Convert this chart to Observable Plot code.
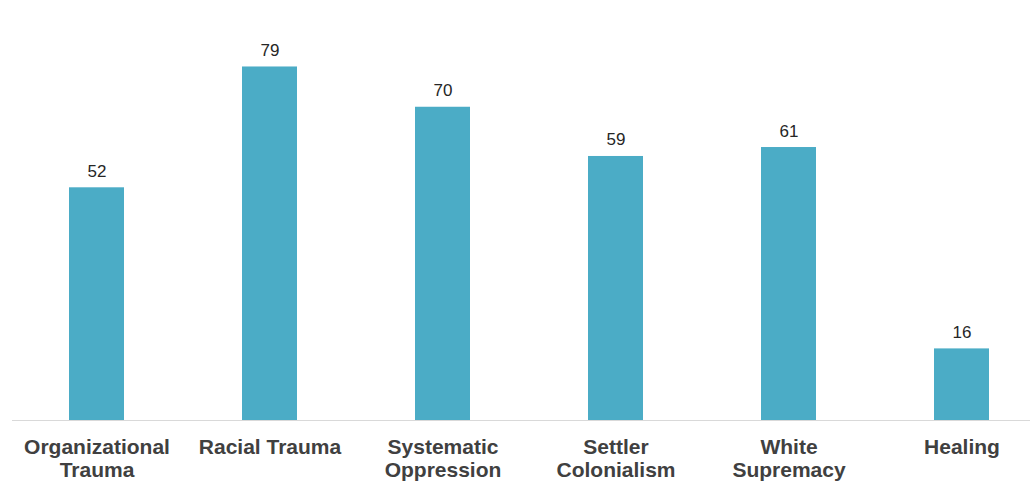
<!DOCTYPE html>
<html>
<head>
<meta charset="utf-8">
<script src="https://cdn.jsdelivr.net/npm/d3@7"></script>
<script src="https://cdn.jsdelivr.net/npm/@observablehq/plot@0.6"></script>
<style>
  html, body { margin: 0; padding: 0; background: #fff; }
  #chart svg { display: block; }
</style>
</head>
<body>
<div id="chart"></div>
<script>
const categories = ["Organizational\nTrauma", "Racial Trauma", "Systematic\nOppression", "Settler\nColonialism", "White\nSupremacy", "Healing"];
const values = [52, 79, 70, 59, 61, 16];

const data = categories.map((c, i) => ({category: c, value: values[i]}));

const chart = Plot.plot({
  width: 1036,
  height: 485,
  marginTop: 62,
  marginBottom: 65,
  marginLeft: 12,
  marginRight: 6,
  style: {fontFamily: "'Liberation Sans', Arial, sans-serif", background: "#fff"},
  x: {domain: categories, range: [12, 1047], paddingInner: 0.682, paddingOuter: 0.332, axis: null},
  y: {domain: [0, 80], axis: null},
  marks: [
    Plot.barY(data, {x: "category", y: "value", fill: "#4BACC6"}),
    Plot.ruleY([0], {stroke: "#d9d9d9", strokeWidth: 1}),
    Plot.text(data, {x: "category", y: "value", text: d => String(d.value), dy: -11, lineAnchor: "bottom", fontSize: 17, fill: "#262626"}),
    Plot.axisX({tickSize: 0, tickPadding: 17, fontSize: 21, fontWeight: "bold", fill: "#404040", lineHeight: 1.1, label: null, tickFormat: d => d})
  ]
});
document.getElementById("chart").appendChild(chart);
</script>
</body>
</html>
